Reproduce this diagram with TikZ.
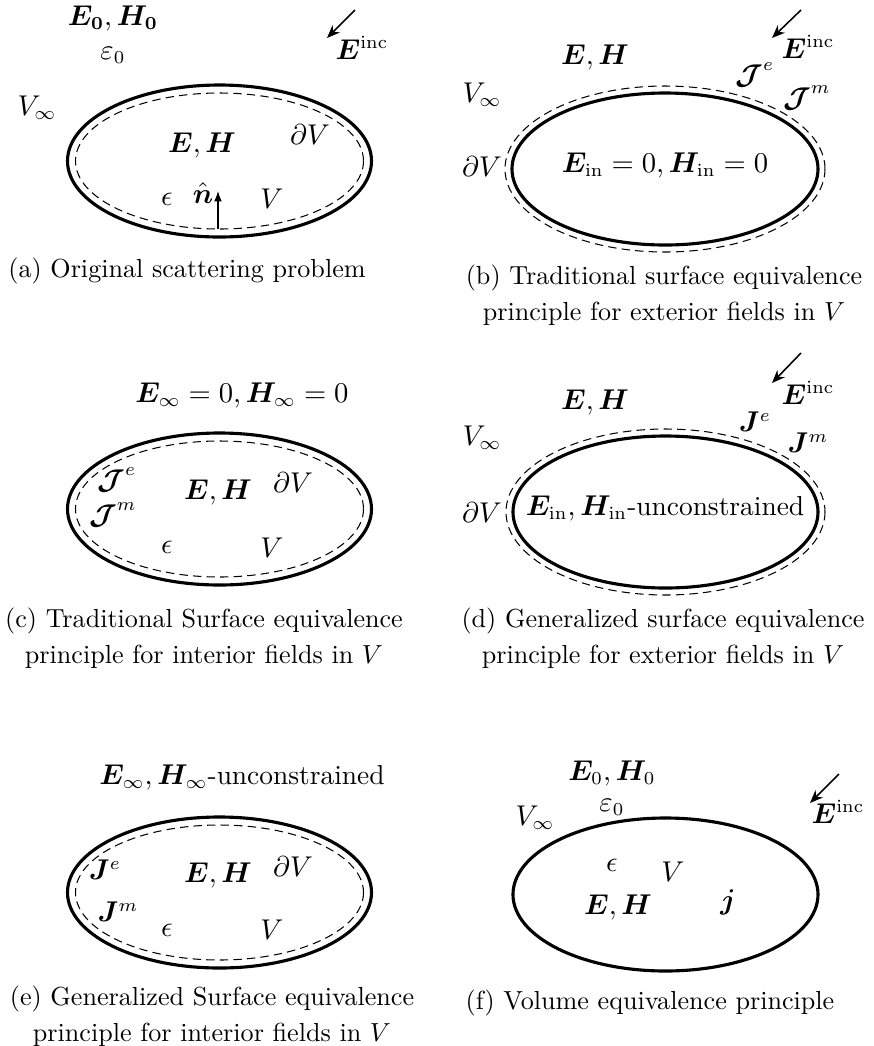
\documentclass[tikz,border=0pt]{standalone}
\usepackage{amsmath,amssymb,bm}
\usetikzlibrary{arrows.meta}
\begin{document}
\begin{tikzpicture}[x=0.383pt,y=-0.383pt,
  body/.style={line width=1.2pt},
  surf/.style={line width=0.4pt, dash pattern=on 3.2pt off 2pt},
  lab/.style={inner sep=0pt, font=\fontsize{10.5}{12.5}\selectfont},
  capt/.style={inner sep=0pt, align=center, font=\fontsize{10}{13.8}\selectfont},
  inc/.style={-{Stealth[length=5pt,width=4pt]}, line width=0.6pt},
  nrm/.style={-{Latex[length=4pt,width=3pt]}, line width=0.5pt}]
\useasboundingbox (0,0) rectangle (874,1046);

% ---------- (a)
\draw[body] (219.5,161) ellipse [x radius=152, y radius=76];
\draw[surf] (219.5,161) ellipse [x radius=144, y radius=68];
\node[lab] (aEH0) at (113,18) {$\boldsymbol{E_0},\boldsymbol{H_0}$};
\node[lab] (aeps0) at (113,55) {$\varepsilon_0$};
\node[lab] (aEinc) at (362,48) {$\boldsymbol{E}^{\mathrm{inc}}$};
\coordinate (ai1) at (355,10); \coordinate (ai2) at (327,38);
\draw[inc] (ai1) -- (ai2);
\node[lab] (aVinf) at (37,108) {$V_\infty$};
\node[lab] (aEH) at (202,145) {$\boldsymbol{E},\boldsymbol{H}$};
\node[lab] (adV) at (310,135) {$\partial V$};
\node[lab] (aeps) at (167,199) {$\epsilon$};
\node[lab] (an) at (203,193) {$\hat{\boldsymbol{n}}$};
\coordinate (an0) at (218,229); \coordinate (an1) at (218,191);
\draw[nrm] (an0) -- (an1);
\node[lab] (aV) at (272,199) {$V$};
\node[capt] (acap) at (187,271) {(a) Original scattering problem};

% ---------- (b)
\draw[body] (665,169) ellipse [x radius=153, y radius=76];
\draw[surf] (665,169) ellipse [x radius=160, y radius=83];
\node[lab] (bEH) at (595,57) {$\boldsymbol{E},\boldsymbol{H}$};
\node[lab] (bEinc) at (808,47) {$\boldsymbol{E}^{\mathrm{inc}}$};
\coordinate (bi1) at (801,10); \coordinate (bi2) at (772,38);
\draw[inc] (bi1) -- (bi2);
\node[lab] (bJe) at (755,75) {$\boldsymbol{\mathcal{J}}^{e}$};
\node[lab] (bJm) at (807,98) {$\boldsymbol{\mathcal{J}}^{m}$};
\node[lab] (bVinf) at (482,95) {$V_\infty$};
\node[lab] (bdV) at (482,167) {$\partial V$};
\node[lab] (bin) at (665,165) {$\boldsymbol{E}_{\mathrm{in}}=0,\boldsymbol{H}_{\mathrm{in}}=0$};
\node[capt] (bcap) at (664,295) {(b) Traditional surface equivalence\\principle for exterior fields in $V$};

% ---------- (c)
\draw[body] (219.5,509) ellipse [x radius=152, y radius=76];
\draw[surf] (219.5,509) ellipse [x radius=144, y radius=68];
\node[lab] (cinf) at (242,395) {$\boldsymbol{E}_\infty=0,\boldsymbol{H}_\infty=0$};
\node[lab] (cJe) at (117,480) {$\boldsymbol{\mathcal{J}}^{e}$};
\node[lab] (cJm) at (113,515) {$\boldsymbol{\mathcal{J}}^{m}$};
\node[lab] (cEH) at (218,492) {$\boldsymbol{E},\boldsymbol{H}$};
\node[lab] (cdV) at (293,483) {$\partial V$};
\node[lab] (ceps) at (167,547) {$\epsilon$};
\node[lab] (cV) at (272,548) {$V$};
\node[capt] (ccap) at (204,638) {(c) Traditional Surface equivalence\\principle for interior fields in $V$};

% ---------- (d)
\draw[body] (665.5,512) ellipse [x radius=152.5, y radius=76];
\draw[surf] (665.5,512) ellipse [x radius=159.5, y radius=83];
\node[lab] (dEH) at (595,402) {$\boldsymbol{E},\boldsymbol{H}$};
\node[lab] (dEinc) at (808,393) {$\boldsymbol{E}^{\mathrm{inc}}$};
\coordinate (di1) at (801,353); \coordinate (di2) at (772,383);
\draw[inc] (di1) -- (di2);
\node[lab] (dJe) at (755,422) {$\boldsymbol{J}^{e}$};
\node[lab] (dJm) at (808,443) {$\boldsymbol{J}^{m}$};
\node[lab] (dVinf) at (482,438) {$V_\infty$};
\node[lab] (ddV) at (482,513) {$\partial V$};
\node[lab] (din) at (665,508) {$\boldsymbol{E}_{\mathrm{in}},\boldsymbol{H}_{\mathrm{in}}$-unconstrained};
\node[capt] (dcap) at (663,638) {(d) Generalized surface equivalence\\principle for exterior fields in $V$};

% ---------- (e)
\draw[body] (219.5,892.5) ellipse [x radius=152, y radius=75.5];
\draw[surf] (219.5,892.5) ellipse [x radius=144, y radius=67.5];
\node[lab] (einf) at (242,777) {$\boldsymbol{E}_\infty,\boldsymbol{H}_\infty$-unconstrained};
\node[lab] (eJe) at (105,870) {$\boldsymbol{J}^{e}$};
\node[lab] (eJm) at (118,912) {$\boldsymbol{J}^{m}$};
\node[lab] (eEH) at (218,875) {$\boldsymbol{E},\boldsymbol{H}$};
\node[lab] (edV) at (293,867) {$\partial V$};
\node[lab] (eeps) at (167,930) {$\epsilon$};
\node[lab] (eV) at (272,930) {$V$};
\node[capt] (ecap) at (212,1016) {(e) Generalized Surface equivalence\\principle for interior fields in $V$};

% ---------- (f)
\draw[body] (665.5,894.5) ellipse [x radius=152.5, y radius=76.5];
\node[lab] (fEH0) at (612,773) {$\boldsymbol{E}_0,\boldsymbol{H}_0$};
\node[lab] (feps0) at (612,807) {$\varepsilon_0$};
\node[lab] (fVinf) at (535,818) {$V_\infty$};
\node[lab] (fEinc) at (838,812) {$\boldsymbol{E}^{\mathrm{inc}}$};
\coordinate (fi1) at (839,774); \coordinate (fi2) at (810,803);
\draw[inc] (fi1) -- (fi2);
\node[lab] (feps) at (612,865) {$\epsilon$};
\node[lab] (fV) at (673,872) {$V$};
\node[lab] (fEH) at (618,907) {$\boldsymbol{E},\boldsymbol{H}$};
\node[lab] (fj) at (728,902) {$\boldsymbol{j}$};
\node[capt] (fcap) at (650,1003) {(f) Volume equivalence principle};
\end{tikzpicture}
\end{document}
